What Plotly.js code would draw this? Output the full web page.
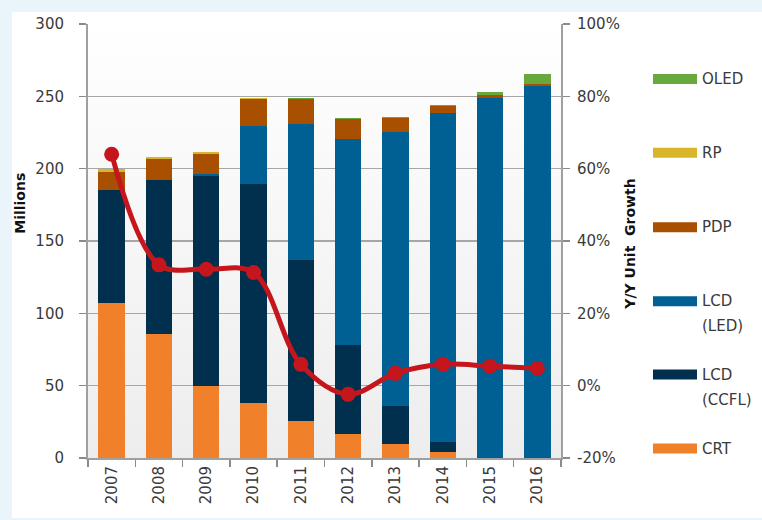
<!DOCTYPE html>
<html>
<head>
<meta charset="utf-8">
<script src="https://cdn.plot.ly/plotly-3.0.1.min.js"></script>
<style>
  html, body { margin: 0; padding: 0; background: #e9f5fb; width: 762px; height: 520px; overflow: hidden; }
  #chart { position: absolute; left: 12px; top: 12px; width: 750px; height: 506px; }
</style>
</head>
<body>
<div id="chart"></div>
<script>
// ---- data ----
const years = ['2007','2008','2009','2010','2011','2012','2013','2014','2015','2016'];
const crt  = [107, 86, 50, 38, 25.5, 16.3, 10, 4.4, 0, 0];
const ccfl = [78.5, 106.5, 144.7, 151.7, 111.7, 61.6, 25.8, 6.9, 0, 0];
const led  = [0, 0, 1.6, 39.6, 93.6, 142.6, 189.4, 227.1, 248.7, 257.2];
const pdp  = [12.5, 14, 13.8, 18.8, 17.2, 13.8, 9.7, 4.8, 1.9, 1.2];
const rp   = [1.5, 1.5, 1.4, 0.8, 0.5, 0.2, 0.2, 0, 0, 0];
const oled = [0, 0.3, 0.3, 0.2, 0.3, 0.5, 0.5, 0.7, 2.7, 7.3];
const growth = [64, 33.4, 32.2, 31.3, 5.9, -2.4, 3.4, 5.9, 5.4, 4.8];

const seriesNames = ['CRT', 'LCD<br>(CCFL)', 'LCD<br>(LED)', 'PDP', 'RP', 'OLED'];
const seriesValues = [crt, ccfl, led, pdp, rp, oled];
const seriesColors = ['#f0812a', '#00304e', '#005f93', '#a84f00', '#d8b52a', '#68a83c'];
const leftTicks = [0, 50, 100, 150, 200, 250, 300];
const rightTicks = [-20, 0, 20, 40, 60, 80, 100];
const rightTickText = ['-20%', '0%', '20%', '40%', '60%', '80%', '100%'];

// ---- traces ----
const traces = seriesValues.map((vals, i) => ({
  type: 'bar', x: years, y: vals, name: seriesNames[i],
  marker: { color: seriesColors[i] }, showlegend: false, hoverinfo: 'x+y+name'
}));
traces.push({
  type: 'scatter', mode: 'lines+markers', x: years, y: growth, yaxis: 'y2',
  line: { color: '#c4161c', width: 5, shape: 'spline', smoothing: 1 },
  marker: { color: '#c4161c', size: 15 }, showlegend: false, name: 'Y/Y Unit Growth'
});

// ---- custom legend (shapes + annotations in paper coords) ----
const shapes = [];
const annotations = [];
const plotTop = 24, plotBottom = 458.5, plotLeft = 88, plotRight = 561;
const ph = plotBottom - plotTop, pw = plotRight - plotLeft;
const py = (pageY) => (plotBottom - pageY) / ph;
const px = (pageX) => (pageX - plotLeft) / pw;
const legendY = [449, 375, 301.5, 227.5, 153, 79]; // CRT..OLED (page px)
seriesNames.forEach((nm, i) => {
  const yc = legendY[i];
  shapes.push({ type: 'rect', xref: 'paper', yref: 'paper',
    x0: px(653), x1: px(697), y0: py(yc + 5), y1: py(yc - 5),
    fillcolor: seriesColors[i], line: { width: 0 } });
  nm.split('<br>').forEach((ln, j) => {
    annotations.push({ xref: 'paper', yref: 'paper', x: px(700), y: py(yc + j * 25),
      xanchor: 'left', yanchor: 'middle', showarrow: false, text: ln,
      font: { family: 'DejaVu Sans', size: 15, color: '#3a3a3a' } });
  });
});
annotations.push({ xref: 'paper', yref: 'paper', x: px(20), y: py(204), textangle: -90,
  xanchor: 'center', yanchor: 'middle', showarrow: false, text: '<b>Millions</b>',
  font: { family: 'DejaVu Sans', size: 14, color: '#111' } });
annotations.push({ xref: 'paper', yref: 'paper', x: px(630), y: py(245), textangle: -90,
  xanchor: 'center', yanchor: 'middle', showarrow: false, text: '<b>Y/Y Unit  Growth</b>',
  font: { family: 'DejaVu Sans', size: 14, color: '#111' } });

const gradSvg = "<svg xmlns='http://www.w3.org/2000/svg' width='10' height='100' preserveAspectRatio='none'><defs><linearGradient id='g' x1='0' y1='0' x2='0' y2='1'><stop offset='0' stop-color='#ffffff'/><stop offset='1' stop-color='#ededed'/></linearGradient></defs><rect width='10' height='100' fill='url(#g)'/></svg>";

const axisFont = { family: 'DejaVu Sans', size: 15, color: '#3a3a3a' };

const layout = {
  width: 750, height: 506,
  margin: { l: 76, r: 201, t: 12, b: 60, pad: 0 },
  paper_bgcolor: '#ffffff', plot_bgcolor: 'rgba(0,0,0,0)',
  barmode: 'stack', bargap: 0.44,
  showlegend: false,
  font: axisFont,
  xaxis: {
    type: 'category', range: [-0.5, 9.5], tickangle: -90, tickfont: axisFont,
    showline: true, linecolor: '#a0a0a0', linewidth: 2,
    ticks: 'outside', tickson: 'boundaries', ticklen: 7, tickcolor: '#8a8a8a', tickwidth: 1.5,
    showgrid: false, automargin: false
  },
  yaxis: {
    range: [0, 300], tickvals: leftTicks, tickfont: axisFont,
    showline: true, linecolor: '#a0a0a0', linewidth: 2,
    ticks: 'outside', ticklen: 7, tickcolor: '#8a8a8a', tickwidth: 1.5,
    ticklabelstandoff: 12,
    showgrid: true, gridcolor: '#a6a6a6', gridwidth: 1.5, zeroline: false, automargin: false
  },
  yaxis2: {
    overlaying: 'y', side: 'right', range: [-20, 100],
    tickmode: 'array', tickvals: rightTicks, ticktext: rightTickText, tickfont: axisFont,
    showline: true, linecolor: '#a0a0a0', linewidth: 2,
    ticks: 'outside', ticklen: 7, tickcolor: '#8a8a8a', tickwidth: 1.5,
    ticklabelstandoff: 4,
    showgrid: false, zeroline: false, automargin: false
  },
  images: [{
    source: 'data:image/svg+xml;charset=utf-8,' + encodeURIComponent(gradSvg),
    xref: 'paper', yref: 'paper', x: 0, y: 1, sizex: 1, sizey: 1,
    sizing: 'stretch', layer: 'below', xanchor: 'left', yanchor: 'top'
  }],
  shapes: shapes,
  annotations: annotations
};

Plotly.newPlot('chart', traces, layout, { displayModeBar: false, staticPlot: true });
</script>
</body>
</html>
